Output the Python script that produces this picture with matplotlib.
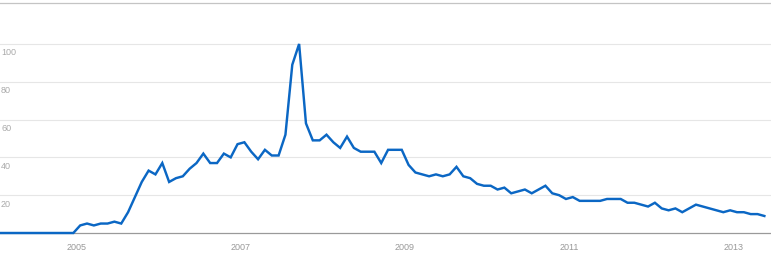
import matplotlib
matplotlib.use("Agg")
import matplotlib.pyplot as plt
import numpy as np

# Monthly interest values, Jan 2004 .. Jun 2013
values = [
    0, 0, 0, 0, 0, 0, 0, 0, 0, 0, 0, 0,            # 2004
    0, 4, 5, 4, 5, 5, 6, 5, 11, 19, 27, 33,        # 2005
    31, 37, 27, 29, 30, 34, 37, 42, 37, 37, 42, 40, # 2006
    47, 48, 43, 39, 44, 41, 41, 52, 89, 100, 58, 49, # 2007
    49, 52, 48, 45, 51, 45, 43, 43, 43, 37, 44, 44, # 2008
    44, 36, 32, 31, 30, 31, 30, 31, 35, 30, 29, 26, # 2009
    25, 25, 23, 24, 21, 22, 23, 21, 23, 25, 21, 20, # 2010
    18, 19, 17, 17, 17, 17, 18, 18, 18, 16, 16, 15, # 2011
    14, 16, 13, 12, 13, 11, 13, 15, 14, 13, 12, 11, # 2012
    12, 11, 11, 10, 10, 9,                          # 2013
]
year_labels = ["2005", "2007", "2009", "2011", "2013"]
year_offsets = [1, 3, 5, 7, 9]   # years after 2004
y_ticks = [20, 40, 60, 80, 100]

W, H = 771, 256
fig = plt.figure(figsize=(W / 100, H / 100), dpi=100)
ax = fig.add_axes([0, (H - 233) / H, 1, (233 - 3.3) / H])

x = np.arange(len(values))
ax.plot(x, values, color="#0b67c4", lw=1.75, solid_joinstyle="miter",
        clip_on=False, zorder=5)

ax.set_xlim(1.28, 113.97)
ax.set_ylim(0, 121.5)

for v in y_ticks:
    ax.axhline(v, color="#e6e6e6", lw=0.8, zorder=1)
    ax.text(1.0 / W, v - 2.3, str(v), transform=ax.get_yaxis_transform(),
            ha="left", va="top", fontsize=6.5, color="#aaaaaa",
            family="Liberation Sans")

ax.set_yticks([])
ax.set_xticks([12 * k + 0.44 for k in year_offsets])
ax.set_xticklabels(year_labels, fontsize=6.5, color="#999999",
                   family="Liberation Sans")
ax.tick_params(axis="x", length=0, pad=7)

for s in ["left", "right"]:
    ax.spines[s].set_visible(False)
ax.spines["top"].set_color("#c4c4c4")
ax.spines["top"].set_linewidth(0.9)
ax.spines["bottom"].set_color("#9a9a9a")
ax.spines["bottom"].set_linewidth(0.9)

fig.savefig("out.png", dpi=100)
